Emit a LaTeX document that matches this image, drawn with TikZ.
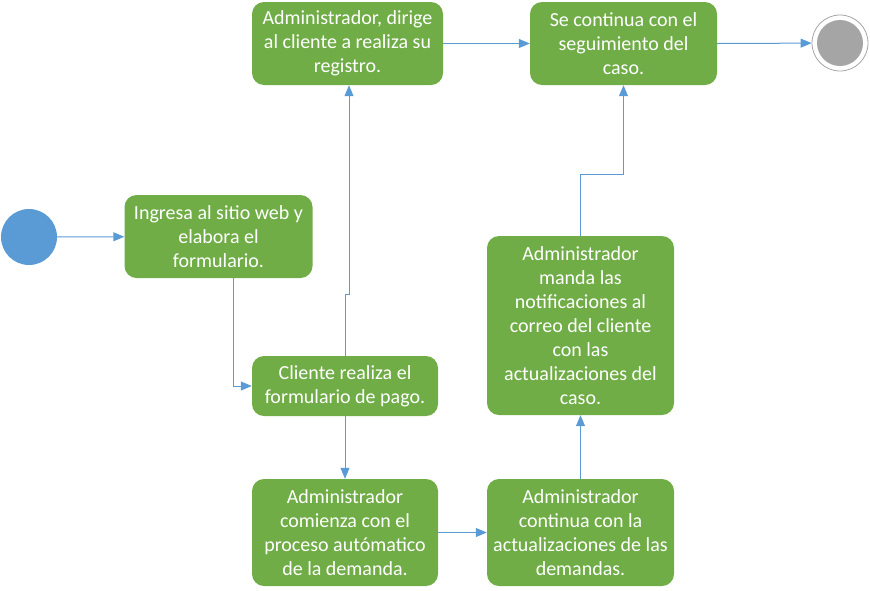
\documentclass[tikz,border=0pt]{standalone}
\usepackage{fontspec}
\setmainfont{Carlito}
\usetikzlibrary{arrows.meta}
\definecolor{boxgreen}{HTML}{70AD47}
\definecolor{flowblue}{HTML}{5B9BD5}
\definecolor{endgray}{HTML}{A5A5A5}

\begin{document}
\begin{tikzpicture}[x=1pt,y=-1pt,
    stepbox/.style={rectangle, rounded corners=12pt, fill=boxgreen, text=white,
        align=center, inner sep=0pt, font=\fontsize{20}{24}\selectfont},
    flow/.style={draw=flowblue, line width=1pt, -{Triangle[length=11pt,width=9pt]}}]
        \useasboundingbox (0,0) rectangle (870,590);

        % Start and end
        \node[circle, fill=flowblue, minimum size=56pt, inner sep=0pt] (start) at (29,237) {};
        \node[circle, draw=endgray, line width=0.8pt, minimum size=56pt, inner sep=0pt] (finish) at (840,43) {};
        \fill[endgray] (finish.center) circle (23pt);

        % Activities
        \node[stepbox, minimum width=188pt, minimum height=83pt] (ingresa) at (218.5,236.5)
            {Ingresa al sitio web y\\elabora el\\formulario.};
        \node[stepbox, minimum width=191pt, minimum height=83pt] (dirige) at (347.5,43.5)
            {Administrador, dirige\\al cliente a realiza su\\registro.};
        \node[stepbox, minimum width=187pt, minimum height=83pt] (sigue) at (623.5,43.5)
            {Se continua con el\\seguimiento del\\caso.};
        \node[stepbox, minimum width=186pt, minimum height=60pt] (pago) at (345,386)
            {Cliente realiza el\\formulario de pago.};
        \node[stepbox, minimum width=186pt, minimum height=107pt] (comienza) at (345,532.5)
            {Administrador\\comienza con el\\proceso autómatico\\de la demanda.};
        \node[stepbox, minimum width=187pt, minimum height=107pt] (continua) at (580.5,532.5)
            {Administrador\\continua con la\\actualizaciones de las\\demandas.};
        \node[stepbox, minimum width=187pt, minimum height=179pt] (manda) at (580.5,325.5)
            {Administrador\\manda las\\notificaciones al\\correo del cliente\\con las\\actualizaciones del\\caso.};

        % Connections
        \draw[flow] (start) -- (ingresa);
        \draw[flow] ([xshift=14.5pt]ingresa.south) |- (pago.west);
        \draw[flow] (pago.north) -- ([yshift=61pt]pago.north) -| ([xshift=1.5pt]dirige.south);
        \draw[flow] (pago.south) -- (comienza.north);
        \draw[flow] (comienza.east) -- (continua.west);
        \draw[flow] (continua.north) -- (manda.south);
        \draw[flow] (manda.north) -- ([yshift=61pt]manda.north) -| (sigue.south);
        \draw[flow] (dirige.east) -- (sigue.west);
        \draw[flow] (sigue.east) -- (finish);

\end{tikzpicture}
\end{document}
